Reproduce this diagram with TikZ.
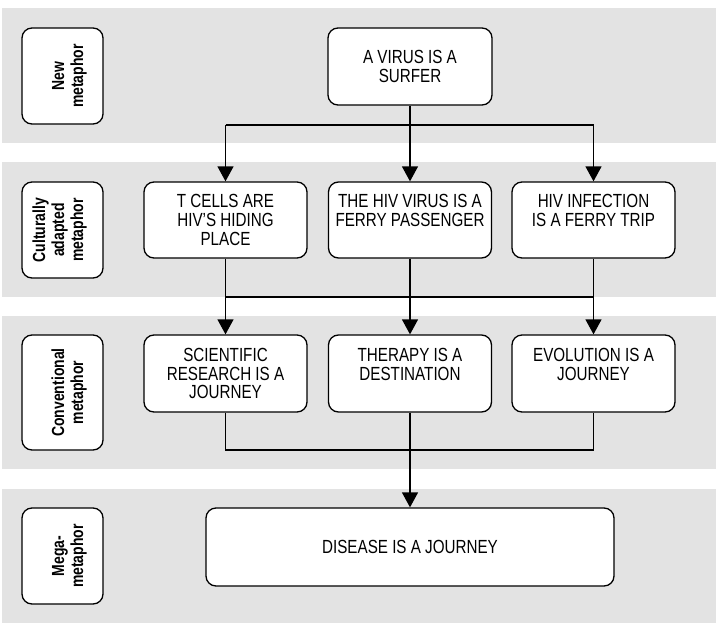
\documentclass[tikz,border=0pt]{standalone}
\usepackage{fontspec}
\setmainfont{Liberation Sans}[FakeStretch=0.8]
\usetikzlibrary{arrows.meta}
\definecolor{band}{RGB}{227,227,227}
\begin{document}
\begin{tikzpicture}[x=1pt,y=-1pt,
  lbox/.style={draw, line width=1.3pt, rounded corners=10pt, fill=white, inner sep=0pt},
  mbox/.style={draw, line width=1.3pt, rounded corners=10pt, fill=white,
    minimum width=163pt, minimum height=76pt, inner sep=0pt, align=center,
    font=\fontsize{19}{18.7}\selectfont},
  ltext/.style={rotate=90, anchor=south, inner sep=0pt, align=center,
    font=\bfseries\fontsize{17.5}{19}\selectfont},
  conn/.style={line width=1.3pt},
  arr/.style={conn, -{Triangle[width=16pt,length=15pt]}},
]
\useasboundingbox (0,0) rectangle (718,624);
% bands
\fill[band] (2,8) rectangle (716,143);
\fill[band] (2,162) rectangle (716,297);
\fill[band] (2,316) rectangle (716,469);
\fill[band] (2,489) rectangle (716,623);

% left labels
\node[lbox, minimum width=81pt, minimum height=96pt] (L1) at (62.5,76) {};
\node[ltext] (T1) at (87,76) {New\\metaphor};
\node[lbox, minimum width=81pt, minimum height=96pt] (L2) at (62.5,230) {};
\node[ltext] (T2) at (87,230) {Culturally\\adapted\\metaphor};
\node[lbox, minimum width=81pt, minimum height=115pt] (L3) at (62.5,392.5) {};
\node[ltext] (T3) at (87,392.5) {Conventional\\metaphor};
\node[lbox, minimum width=81pt, minimum height=96pt] (L4) at (62.5,556) {};
\node[ltext] (T4) at (87,556) {Mega-\\metaphor};

% main boxes
\node[mbox, minimum width=164pt, minimum height=77pt] (surfer) at (410,66.5) {A VIRUS IS A\\SURFER};

\node[mbox] (b1) at (225.5,220) {T CELLS ARE\\HIV’S HIDING\\PLACE};
\node[mbox] (b2) at (410,220) {THE HIV VIRUS IS A\\FERRY PASSENGER\\\mbox{}};
\node[mbox] (b3) at (593.5,220) {HIV INFECTION\\IS A FERRY TRIP\\\mbox{}};

\node[mbox, minimum height=77pt] (c1) at (225.5,373.5) {SCIENTIFIC\\RESEARCH IS A\\JOURNEY};
\node[mbox, minimum height=77pt] (c2) at (410,373.5) {THERAPY IS A\\DESTINATION\\\mbox{}};
\node[mbox, minimum height=77pt] (c3) at (593.5,373.5) {EVOLUTION IS A\\JOURNEY\\\mbox{}};

\node[mbox, minimum width=408pt, minimum height=78pt] (disease) at (410,547) {DISEASE IS A JOURNEY};

% connectors: new -> culturally adapted
\coordinate (s1) at (410,125);
\draw[conn] (b1.north |- s1) -- (b3.north |- s1);
\draw[arr] (surfer.south) -- (b2.north);
\draw[arr] (b1.north |- s1) -- (b1.north);
\draw[arr] (b3.north |- s1) -- (b3.north);

% culturally adapted -> conventional
\coordinate (s2) at (410,297);
\draw[conn] (b1.south) -- (b1.south |- s2) -- (b3.south |- s2) -- (b3.south);
\draw[arr] (b2.south) -- (c2.north);
\draw[arr] (b1.south |- s2) -- (c1.north);
\draw[arr] (b3.south |- s2) -- (c3.north);

% conventional -> mega
\coordinate (s3) at (410,450);
\draw[conn] (c1.south) -- (c1.south |- s3) -- (c3.south |- s3) -- (c3.south);
\draw[arr] (c2.south) -- (disease.north);
\end{tikzpicture}
\end{document}
